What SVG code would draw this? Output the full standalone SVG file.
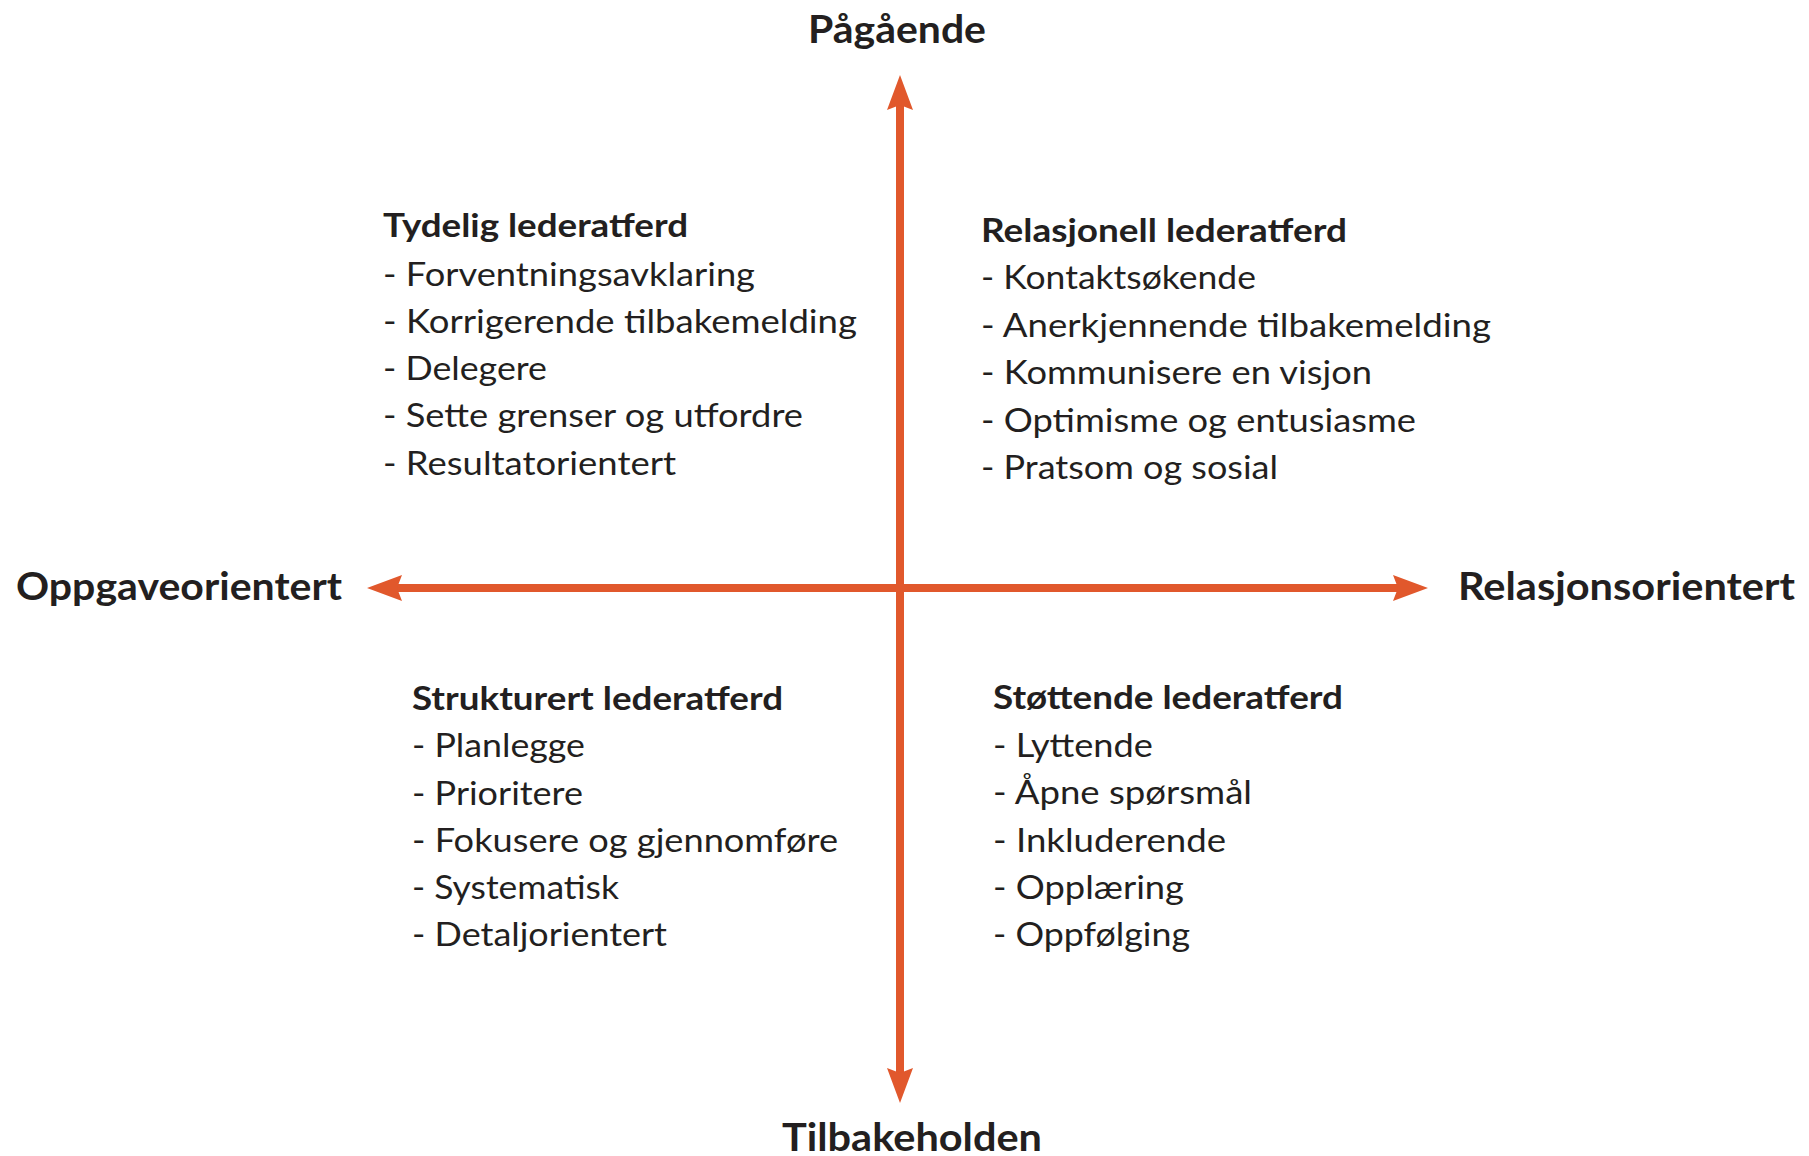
<svg xmlns="http://www.w3.org/2000/svg" width="1809" height="1156" viewBox="0 0 1809 1156">
<style>
text{font-family:Lato,"Open Sans","Liberation Sans",sans-serif;fill:#231f20}
.ax{font-size:39px;font-weight:700}
.hd{font-size:33px;font-weight:700}
.it{font-size:32px;font-weight:400}
.axis{stroke:#e1582c;stroke-width:8;fill:none}
</style>
<defs>
<marker id="ah" markerUnits="userSpaceOnUse" markerWidth="40" markerHeight="30" viewBox="0 -15 40 30" refX="5" refY="0" orient="auto-start-reverse" overflow="visible">
<path d="M0,-13 L35,0 L0,13 L5,0 Z" fill="#e1582c"/>
</marker>
</defs>
<rect width="1809" height="1156" fill="#ffffff"/>
<g id="connectors">
<line class="axis" x1="900" y1="105" x2="900" y2="1073" marker-start="url(#ah)" marker-end="url(#ah)"/>
<line class="axis" x1="397" y1="588" x2="1398" y2="588" marker-start="url(#ah)" marker-end="url(#ah)"/>
</g>
<g id="label-top"><text class="ax" x="808" y="43" textLength="178" lengthAdjust="spacingAndGlyphs">Pågående</text></g>
<g id="label-bottom"><text class="ax" x="782" y="1151" textLength="260" lengthAdjust="spacingAndGlyphs">Tilbakeholden</text></g>
<g id="label-left"><text class="ax" x="16" y="600" textLength="326" lengthAdjust="spacingAndGlyphs">Oppgaveorientert</text></g>
<g id="label-right"><text class="ax" x="1458" y="600" textLength="337" lengthAdjust="spacingAndGlyphs">Relasjonsorientert</text></g>
<g id="q-tydelig">
<text class="hd" x="383" y="237" textLength="305" lengthAdjust="spacingAndGlyphs">Tydelig lederatferd</text>
<text class="it" x="383" y="286" textLength="372" lengthAdjust="spacingAndGlyphs">- Forventningsavklaring</text>
<text class="it" x="383" y="333" textLength="474" lengthAdjust="spacingAndGlyphs">- Korrigerende tilbakemelding</text>
<text class="it" x="383" y="380" textLength="164" lengthAdjust="spacingAndGlyphs">- Delegere</text>
<text class="it" x="383" y="427" textLength="420" lengthAdjust="spacingAndGlyphs">- Sette grenser og utfordre</text>
<text class="it" x="383" y="475" textLength="293" lengthAdjust="spacingAndGlyphs">- Resultatorientert</text>
</g>
<g id="q-relasjonell">
<text class="hd" x="981" y="242" textLength="366" lengthAdjust="spacingAndGlyphs">Relasjonell lederatferd</text>
<text class="it" x="981" y="289" textLength="275" lengthAdjust="spacingAndGlyphs">- Kontaktsøkende</text>
<text class="it" x="981" y="337" textLength="510" lengthAdjust="spacingAndGlyphs">- Anerkjennende tilbakemelding</text>
<text class="it" x="981" y="384" textLength="391" lengthAdjust="spacingAndGlyphs">- Kommunisere en visjon</text>
<text class="it" x="981" y="432" textLength="435" lengthAdjust="spacingAndGlyphs">- Optimisme og entusiasme</text>
<text class="it" x="981" y="479" textLength="297" lengthAdjust="spacingAndGlyphs">- Pratsom og sosial</text>
</g>
<g id="q-strukturert">
<text class="hd" x="412" y="710" textLength="371" lengthAdjust="spacingAndGlyphs">Strukturert lederatferd</text>
<text class="it" x="412" y="757" textLength="173" lengthAdjust="spacingAndGlyphs">- Planlegge</text>
<text class="it" x="412" y="805" textLength="171" lengthAdjust="spacingAndGlyphs">- Prioritere</text>
<text class="it" x="412" y="852" textLength="426" lengthAdjust="spacingAndGlyphs">- Fokusere og gjennomføre</text>
<text class="it" x="412" y="899" textLength="207" lengthAdjust="spacingAndGlyphs">- Systematisk</text>
<text class="it" x="412" y="946" textLength="255" lengthAdjust="spacingAndGlyphs">- Detaljorientert</text>
</g>
<g id="q-stottende">
<text class="hd" x="993" y="709" textLength="350" lengthAdjust="spacingAndGlyphs">Støttende lederatferd</text>
<text class="it" x="993" y="757" textLength="160" lengthAdjust="spacingAndGlyphs">- Lyttende</text>
<text class="it" x="993" y="804" textLength="259" lengthAdjust="spacingAndGlyphs">- Åpne spørsmål</text>
<text class="it" x="993" y="852" textLength="233" lengthAdjust="spacingAndGlyphs">- Inkluderende</text>
<text class="it" x="993" y="899" textLength="191" lengthAdjust="spacingAndGlyphs">- Opplæring</text>
<text class="it" x="993" y="946" textLength="197" lengthAdjust="spacingAndGlyphs">- Oppfølging</text>
</g>
</svg>
